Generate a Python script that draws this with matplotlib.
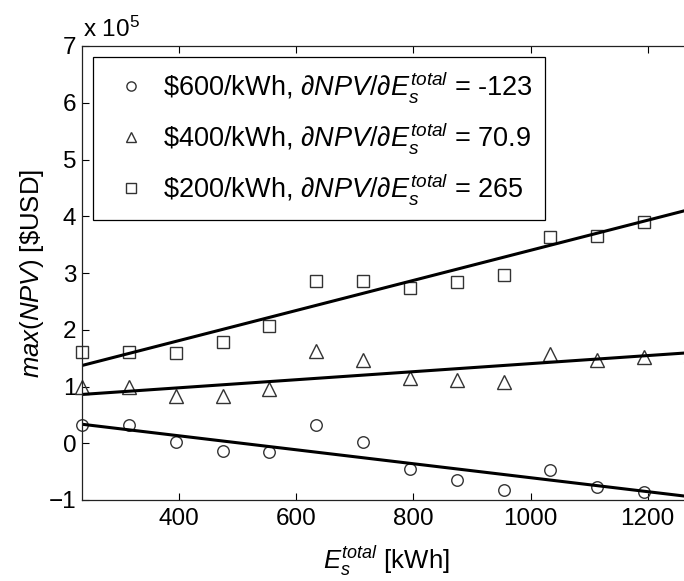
import matplotlib
matplotlib.use('Agg')
import matplotlib.pyplot as plt
import numpy as np

# Data (values in USD)
energy = [234, 314, 394, 474, 554, 634, 714, 794, 874, 954, 1034, 1114, 1194, 1274]
npv_600 = [0.33, 0.33, 0.02, -0.14, -0.16, 0.33, 0.02, -0.46, -0.65, -0.82, -0.48, -0.77, -0.86, -0.90]
npv_400 = [0.99, 1.00, 0.83, 0.84, 0.95, 1.63, 1.46, 1.15, 1.12, 1.08, 1.58, 1.46, 1.52, 1.55]
npv_200 = [1.61, 1.60, 1.59, 1.79, 2.07, 2.86, 2.86, 2.73, 2.85, 2.97, 3.63, 3.65, 3.89, 4.28]
series_labels = [r'\$600/kWh, $\partial NPV/\partial E_s^{total}$ = -123',
                 r'\$400/kWh, $\partial NPV/\partial E_s^{total}$ = 70.9',
                 r'\$200/kWh, $\partial NPV/\partial E_s^{total}$ = 265']
markers = ['o', '^', 's']
# fitted lines: slope [USD/kWh] and value at the first point [USD]
fit_slope = [-123, 70.9, 265]
fit_start = [0.335e5, 0.86e5, 1.37e5]
scale = 1e5

plt.rcParams['font.family'] = ['Liberation Sans', 'DejaVu Sans']
plt.rcParams['mathtext.fontset'] = 'custom'
plt.rcParams['mathtext.rm'] = 'Liberation Sans'
plt.rcParams['mathtext.it'] = 'Liberation Sans:italic'
plt.rcParams['mathtext.bf'] = 'Liberation Sans:bold'
fs = 17.5

fig = plt.figure(figsize=(6.84, 5.81), dpi=100)
ax = fig.add_axes([82 / 684, 81 / 581, 609 / 684, 454 / 581])

x = np.array(energy)
for vals, m, lab in zip([npv_600, npv_400, npv_200], markers, series_labels):
    ms = 9.5 if m == '^' else 8.3
    ax.plot(x, np.array(vals), linestyle='none', marker=m, ms=ms, mfc='none',
            mec='#333333', mew=1.0, label=lab, clip_on=False)

for k, b in zip(fit_slope, fit_start):
    xl = np.array([energy[0], energy[-1]])
    ax.plot(xl, (b + k * (xl - energy[0])) / scale, color='black', lw=2.2)

ax.set_xlim(energy[0], energy[-1])
ax.set_ylim(-1, 7)
ax.set_xticks([400, 600, 800, 1000, 1200])
ax.set_yticks(range(-1, 8))
ax.tick_params(direction='in', length=5, width=0.8, top=True, right=True,
               labelsize=fs, pad=6)
ax.tick_params(axis='y', pad=4)
for s in ax.spines.values():
    s.set_linewidth(0.9)
    s.set_color('#222222')

ax.set_xlabel(r'$E_s^{total}$ [kWh]', fontsize=18.5, labelpad=10)
ax.set_ylabel(r'$\mathit{max(NPV)}$ [\$USD]', fontsize=18.5, labelpad=2)
fig.text(83 / 684, 1 - 37 / 581, r'x 10$^5$', fontsize=fs, va='baseline')

leg = ax.legend(loc='upper left', bbox_to_anchor=(0.0176, 0.976), fontsize=19.5,
                frameon=True, fancybox=False, edgecolor='black', framealpha=1,
                borderpad=0.45, labelspacing=0.56, handletextpad=0.25,
                handlelength=1.9, borderaxespad=0, markerscale=0.8)
leg.get_frame().set_linewidth(0.9)

fig.savefig('out.png', dpi=100)
